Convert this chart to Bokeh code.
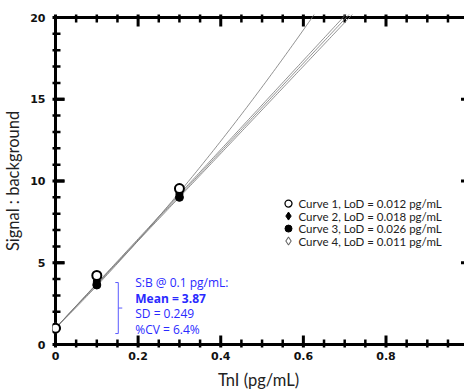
import numpy as np
from bokeh.plotting import figure
from bokeh.models import (LinearAxis, FixedTicker, Range1d, Label, ColumnDataSource)
from bokeh.core.properties import value
from bokeh.embed import file_html
from bokeh.resources import INLINE

# ---- data ----
conc = [0.0, 0.1, 0.3]
curve_labels = ["Curve 1, LoD = 0.012 pg/mL", "Curve 2, LoD = 0.018 pg/mL",
                "Curve 3, LoD = 0.026 pg/mL", "Curve 4, LoD = 0.011 pg/mL"]
sb_curve1 = [1.0, 4.22, 9.54]
sb_curve2 = [1.0, 3.88, 9.20]
sb_curve3 = [1.0, 3.64, 9.00]
sb_curve4 = [1.0, 3.75, 9.30]
# fitted curves: y = a + b*x + c*x^2
fit_a = [1.0, 1.0, 1.0, 1.0]
fit_b = [25.0, 27.3, 26.7, 27.0]
fit_c = [9.0, 0.0, 0.0, 0.0]

x_ticks = [0, 0.2, 0.4, 0.6, 0.8]
x_tick_labels = ["0", "0.2", "0.4", "0.6", "0.8"]
x_minor = [0.05 * i for i in range(20) if i % 4 != 0]
y_ticks = [0, 5, 10, 15, 20]
y_tick_labels = ["0", "5", "10", "15", "20"]
y_minor = [i for i in range(21) if i % 5 != 0]

annot_lines = ["S:B @ 0.1 pg/mL:", "Mean = 3.87", "SD = 0.249", "%CV = 6.4%"]
annot_bold = [False, True, False, False]
bracket_x = 0.152
bracket_y = [0.67, 3.79]

markers = ["circle", "diamond", "circle", "diamond"]
m_sizes = [9, 11, 8, 11]
m_fill = ["white", "black", "black", "white"]
m_line = ["black", "black", "black", "#666666"]
m_lw = [2, 1, 1, 1.3]

# ---- geometry (pixels) ----
PX_X = 415.0
PX_Y = 16.35
PAD = 3
X_MAX = 0.99
x_rng = Range1d(-PAD / PX_X, X_MAX)
y_rng = Range1d(-PAD / PX_Y, 20 + PAD / PX_Y)

p = figure(width=464, height=392, x_range=x_rng, y_range=y_rng,
           output_backend="svg", toolbar_location=None, x_axis_location=None,
           y_axis_location=None, min_border_left=50, min_border_top=14,
           min_border_right=0, min_border_bottom=45)
p.xgrid.visible = False
p.ygrid.visible = False
p.outline_line_color = None

def label_axis(ax, ticks, labels):
    ax.ticker = FixedTicker(ticks=ticks, minor_ticks=[])
    ax.axis_line_color = None
    ax.major_tick_line_color = None
    ax.minor_tick_line_color = None
    ax.major_tick_in = 0
    ax.major_tick_out = 0
    ax.minor_tick_in = 0
    ax.minor_tick_out = 0
    ax.major_label_overrides = {t: l for t, l in zip(ticks, labels)}
    ax.major_label_text_font = "DejaVu Sans"
    ax.major_label_text_font_style = "bold"
    ax.major_label_text_font_size = "11px"
    ax.major_label_text_color = "#111111"
    ax.axis_label_text_font = "Lato"
    ax.axis_label_text_font_size = "16.5px"
    ax.axis_label_text_font_style = "normal"
    ax.axis_label_text_color = "#222222"

xb = LinearAxis(axis_label="TnI (pg/mL)")
label_axis(xb, x_ticks, x_tick_labels)
xb.major_label_standoff = 4
xb.axis_label_standoff = 7
p.add_layout(xb, "below")

yl = LinearAxis(axis_label="Signal : background")
label_axis(yl, y_ticks, y_tick_labels)
yl.major_label_standoff = 7
yl.axis_label_standoff = 4
p.add_layout(yl, "left")

# frame lines
p.multi_line(xs=[[0, 0, X_MAX], [0, X_MAX]], ys=[[20, 0, 0], [20, 20]],
             line_color="black", line_width=3, line_cap="square",
             line_join="miter")

# tick marks: markers centred on the axis lines, twice the inward length
VERT = np.pi / 2
p.scatter(x_ticks, [0] * len(x_ticks), marker="dash", size=18, angle=VERT,
          line_color="black", line_width=3)
p.scatter(x_ticks, [20] * len(x_ticks), marker="dash", size=18, angle=VERT,
          line_color="black", line_width=3)
p.scatter(x_minor, [0] * len(x_minor), marker="dash", size=10, angle=VERT,
          line_color="black", line_width=2.5)
p.scatter(x_minor, [20] * len(x_minor), marker="dash", size=10, angle=VERT,
          line_color="black", line_width=2.5)
p.scatter([0] * len(y_ticks), y_ticks, marker="dash", size=18,
          line_color="black", line_width=3)
p.scatter([0] * len(y_minor), y_minor, marker="dash", size=10,
          line_color="black", line_width=2.5)
p.scatter([X_MAX] * 3, y_ticks[1:4], marker="dash", size=7,
          line_color="black", line_width=3)
# second pass over the left major ticks (same marks, drawn again)
p.scatter([4.5 / PX_X] * len(y_ticks), y_ticks, marker="dash", size=9,
          line_color="black", line_width=3)

# fitted curves
for a, b, c in zip(fit_a, fit_b, fit_c):
    xs = np.linspace(0, 1.0, 200)
    ys = a + b * xs + c * xs ** 2
    p.line(xs, ys, line_color="#757575", line_width=0.8)

# points (curve 4 first so curve 1 is on top)
series = [sb_curve1, sb_curve2, sb_curve3, sb_curve4]
for i in [3, 2, 1, 0]:
    p.scatter(conc, series[i], marker=markers[i], size=m_sizes[i],
              fill_color=m_fill[i], line_color=m_line[i], line_width=m_lw[i])

# legend
leg_x = 0.564
leg_y0 = 8.62
row_step = 12.5 / PX_Y
leg_src = ColumnDataSource(dict(
    x=[leg_x] * 4,
    y=[leg_y0 - i * row_step for i in range(4)],
    marker=markers, size=[7, 8, 7, 8], fill=m_fill, line=m_line,
    lw=[1.3, 1, 1, 1.1], label=curve_labels))
p.scatter("x", "y", source=leg_src, marker="marker", size="size",
          fill_color="fill", line_color="line", line_width="lw")
p.text("x", "y", text="label", source=leg_src, x_offset=10,
       text_font=value("Lato"), text_font_size="11.5px", text_color="#222222",
       text_baseline="middle", text_align="left")

# bracket and S:B annotation
arm = 3 / PX_X
tick = 4 / PX_X
ymid = 0.5 * (bracket_y[0] + bracket_y[1])
p.multi_line(xs=[[bracket_x - arm, bracket_x, bracket_x, bracket_x - arm],
                 [bracket_x, bracket_x + tick]],
             ys=[[bracket_y[1], bracket_y[1], bracket_y[0], bracket_y[0]],
                 [ymid, ymid]],
             line_color="#5a5aff", line_width=1)

for i, (t, bold) in enumerate(zip(annot_lines, annot_bold)):
    p.add_layout(Label(x=0.193, y=bracket_y[1], y_offset=-15.5 * i, text=t,
                       text_font="Open Sans", text_font_size="12px",
                       text_font_style="bold" if bold else "normal",
                       text_color="#2a2aff", text_baseline="middle"))

open("out.html", "w").write(file_html(p, INLINE))
